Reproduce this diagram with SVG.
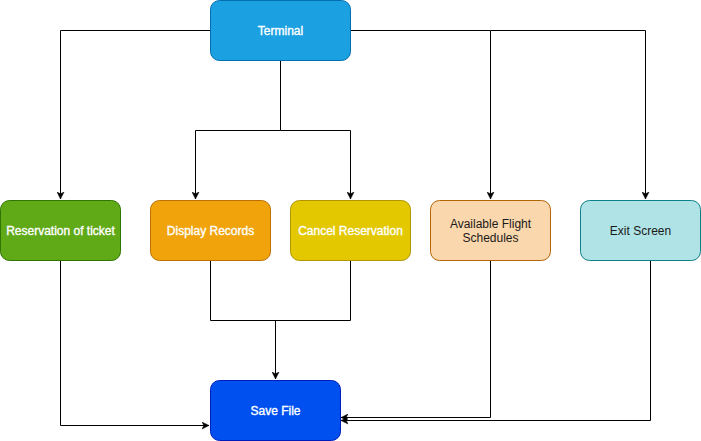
<svg xmlns="http://www.w3.org/2000/svg" width="701" height="441" viewBox="0 0 701 441">
<style>
.n{stroke-width:1}
.t{font-family:"Liberation Sans",Arial,Helvetica,sans-serif;font-size:12px;text-anchor:middle;dominant-baseline:central}
.w{fill:#ffffff;stroke:#ffffff;stroke-width:0.35}
.d{fill:#1a1a1a}
.c{fill:none;stroke:#000000;stroke-width:1}
</style>
<defs>
<marker id="ah" markerWidth="8" markerHeight="8" refX="7" refY="4" orient="auto" markerUnits="userSpaceOnUse">
<path d="M0,0.5 L7,4 L0,7.5 L1.8,4 Z" fill="#000000" stroke="#000000" stroke-width="0.5"/>
</marker>
</defs>
<rect width="701" height="441" fill="#ffffff"/>
<g id="connectors">
<path class="c" d="M210.5,30.5 H60.5 V199" marker-end="url(#ah)"/>
<path class="c" d="M280.5,60.5 V130.5 H195.5 V199" marker-end="url(#ah)"/>
<path class="c" d="M280.5,130.5 H350.5 V199" marker-end="url(#ah)"/>
<path class="c" d="M350.5,30.5 H490.5 V199" marker-end="url(#ah)"/>
<path class="c" d="M490.5,30.5 H645.5 V199" marker-end="url(#ah)"/>
<path class="c" d="M60.5,260.5 V425.5 H209" marker-end="url(#ah)"/>
<path class="c" d="M210.5,260.5 V320.5 H350.5 V260.5"/>
<path class="c" d="M275.5,320.5 V379" marker-end="url(#ah)"/>
<path class="c" d="M490.5,260.5 V417.5 H341" marker-end="url(#ah)"/>
<path class="c" d="M650.5,260.5 V420.5 H341" marker-end="url(#ah)"/>
</g>
<g id="terminal">
<rect class="n" x="210.5" y="0.5" width="140" height="60" rx="9" fill="#1ba1e2" stroke="#006eaf"/>
<text class="t w" x="280.5" y="30.5">Terminal</text>
</g>
<g id="reservation">
<rect class="n" x="0.5" y="200.5" width="120" height="60" rx="9" fill="#60a917" stroke="#2d7600"/>
<text class="t w" x="60.5" y="230.5">Reservation of ticket</text>
</g>
<g id="display">
<rect class="n" x="150.5" y="200.5" width="120" height="60" rx="9" fill="#f0a30a" stroke="#bd7000"/>
<text class="t w" x="210.5" y="230.5">Display Records</text>
</g>
<g id="cancel">
<rect class="n" x="290.5" y="200.5" width="120" height="60" rx="9" fill="#e3c800" stroke="#b09500"/>
<text class="t w" x="350.5" y="230.5">Cancel Reservation</text>
</g>
<g id="available">
<rect class="n" x="430.5" y="200.5" width="120" height="60" rx="9" fill="#fad7ac" stroke="#b46504"/>
<text class="t d" x="490.5" y="223.5">Available Flight</text>
<text class="t d" x="490.5" y="237.5">Schedules</text>
</g>
<g id="exit">
<rect class="n" x="580.5" y="200.5" width="120" height="60" rx="9" fill="#b0e3e6" stroke="#0e8088"/>
<text class="t d" x="640.5" y="230.5">Exit Screen</text>
</g>
<g id="savefile">
<rect class="n" x="210.5" y="380.5" width="130" height="60" rx="9" fill="#0050ef" stroke="#001dbc"/>
<text class="t w" x="275.5" y="410.5">Save File</text>
</g>
</svg>
